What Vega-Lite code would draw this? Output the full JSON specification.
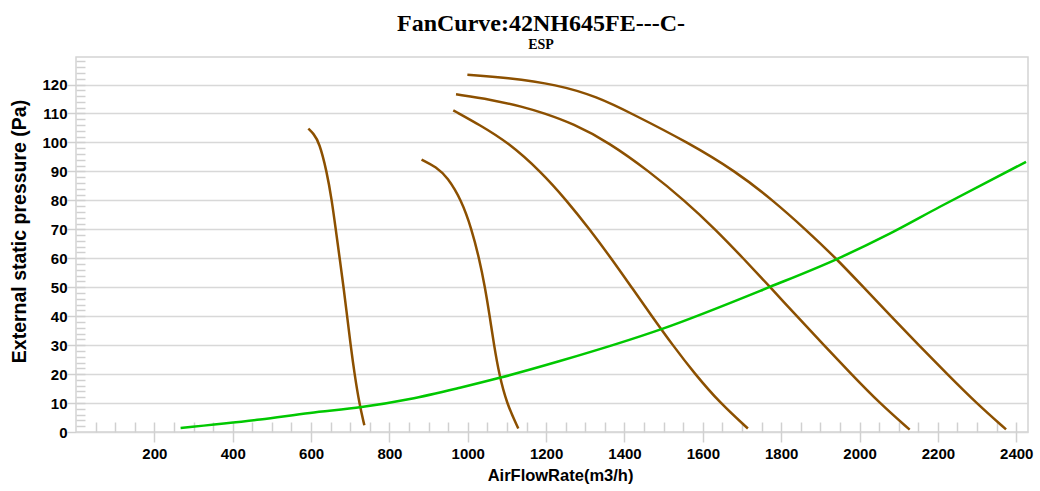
{
  "$schema": "https://vega.github.io/schema/vega-lite/v6.json",
  "width": 952,
  "height": 375,
  "autosize": "none",
  "padding": {"left": 76, "top": 57, "right": 12, "bottom": 59},
  "background": "white",
  "title": {
    "text": "FanCurve:42NH645FE---C-",
    "subtitle": "ESP",
    "font": "Liberation Serif",
    "fontSize": 24,
    "fontWeight": "bold",
    "color": "black",
    "subtitleFont": "Liberation Serif",
    "subtitleFontSize": 14,
    "subtitleFontWeight": "bold",
    "subtitleColor": "black",
    "subtitlePadding": 2,
    "anchor": "middle",
    "offset": 5,
    "dx": -11
  },
  "config": {
    "view": {"stroke": "#d4d4d4", "strokeWidth": 1.5},
    "axis": {
      "labelFont": "Liberation Sans",
      "labelFontSize": 15,
      "labelFontWeight": "bold",
      "labelColor": "black",
      "labelFlush": false,
      "format": "d",
      "titleFont": "Liberation Sans",
      "titleFontWeight": "bold",
      "titleColor": "black",
      "tickColor": "#d0d0d0",
      "tickWidth": 1.5,
      "domain": false
    }
  },
  "data": {
    "values": [
      {"curve": "F1", "q": 593, "p": 104.8},
      {"curve": "F1", "q": 606, "p": 103.1},
      {"curve": "F1", "q": 621, "p": 100},
      {"curve": "F1", "q": 640, "p": 90},
      {"curve": "F1", "q": 653, "p": 80},
      {"curve": "F1", "q": 663, "p": 70},
      {"curve": "F1", "q": 673, "p": 60},
      {"curve": "F1", "q": 683, "p": 50},
      {"curve": "F1", "q": 692, "p": 40},
      {"curve": "F1", "q": 701, "p": 30},
      {"curve": "F1", "q": 711, "p": 20},
      {"curve": "F1", "q": 723, "p": 10},
      {"curve": "F1", "q": 736, "p": 2.3},

      {"curve": "F2", "q": 882, "p": 94.1},
      {"curve": "F2", "q": 920, "p": 91.5},
      {"curve": "F2", "q": 948, "p": 88},
      {"curve": "F2", "q": 984, "p": 80},
      {"curve": "F2", "q": 1010, "p": 70},
      {"curve": "F2", "q": 1029, "p": 60},
      {"curve": "F2", "q": 1044, "p": 50},
      {"curve": "F2", "q": 1056, "p": 40},
      {"curve": "F2", "q": 1067, "p": 30},
      {"curve": "F2", "q": 1080, "p": 20},
      {"curve": "F2", "q": 1099, "p": 10},
      {"curve": "F2", "q": 1129, "p": 1.2},

      {"curve": "F3", "q": 963, "p": 111.1},
      {"curve": "F3", "q": 1031, "p": 106},
      {"curve": "F3", "q": 1103, "p": 100},
      {"curve": "F3", "q": 1186, "p": 90},
      {"curve": "F3", "q": 1252, "p": 80},
      {"curve": "F3", "q": 1311, "p": 70},
      {"curve": "F3", "q": 1366, "p": 60},
      {"curve": "F3", "q": 1418, "p": 50},
      {"curve": "F3", "q": 1470, "p": 40},
      {"curve": "F3", "q": 1523, "p": 30},
      {"curve": "F3", "q": 1580, "p": 20},
      {"curve": "F3", "q": 1644, "p": 10},
      {"curve": "F3", "q": 1715, "p": 1.2},

      {"curve": "F4", "q": 970, "p": 116.6},
      {"curve": "F4", "q": 1060, "p": 114.8},
      {"curve": "F4", "q": 1141, "p": 112.3},
      {"curve": "F4", "q": 1192, "p": 110.2},
      {"curve": "F4", "q": 1269, "p": 106.5},
      {"curve": "F4", "q": 1360, "p": 100},
      {"curve": "F4", "q": 1463, "p": 90},
      {"curve": "F4", "q": 1553, "p": 80},
      {"curve": "F4", "q": 1632, "p": 70},
      {"curve": "F4", "q": 1703, "p": 60},
      {"curve": "F4", "q": 1772, "p": 50},
      {"curve": "F4", "q": 1840, "p": 40},
      {"curve": "F4", "q": 1909, "p": 30},
      {"curve": "F4", "q": 1979, "p": 20},
      {"curve": "F4", "q": 2051, "p": 10},
      {"curve": "F4", "q": 2128, "p": 0.8},

      {"curve": "F5", "q": 999, "p": 123.4},
      {"curve": "F5", "q": 1099, "p": 122.4},
      {"curve": "F5", "q": 1227, "p": 120},
      {"curve": "F5", "q": 1330, "p": 115.8},
      {"curve": "F5", "q": 1418, "p": 110},
      {"curve": "F5", "q": 1562, "p": 100},
      {"curve": "F5", "q": 1684, "p": 90},
      {"curve": "F5", "q": 1779, "p": 80},
      {"curve": "F5", "q": 1862, "p": 70},
      {"curve": "F5", "q": 1940, "p": 60},
      {"curve": "F5", "q": 2010, "p": 50},
      {"curve": "F5", "q": 2080, "p": 40},
      {"curve": "F5", "q": 2151, "p": 30},
      {"curve": "F5", "q": 2224, "p": 20},
      {"curve": "F5", "q": 2298, "p": 10},
      {"curve": "F5", "q": 2374, "p": 0.9},

      {"curve": "ESP", "q": 267, "p": 1.4},
      {"curve": "ESP", "q": 470, "p": 4.3},
      {"curve": "ESP", "q": 597, "p": 6.6},
      {"curve": "ESP", "q": 729, "p": 8.6},
      {"curve": "ESP", "q": 852, "p": 11.4},
      {"curve": "ESP", "q": 980, "p": 15.3},
      {"curve": "ESP", "q": 1084, "p": 18.8},
      {"curve": "ESP", "q": 1235, "p": 24.5},
      {"curve": "ESP", "q": 1498, "p": 35.7},
      {"curve": "ESP", "q": 1771, "p": 50.1},
      {"curve": "ESP", "q": 1945, "p": 59.9},
      {"curve": "ESP", "q": 2077, "p": 68.5},
      {"curve": "ESP", "q": 2204, "p": 77.7},
      {"curve": "ESP", "q": 2425, "p": 93.3}
    ]
  },
  "layer": [
    {
      "transform": [{"filter": "datum.curve != 'ESP'"}],
      "mark": {"type": "line", "color": "#8c5000", "strokeWidth": 2.5, "interpolate": "basis"},
      "encoding": {
        "x": {
          "field": "q",
          "type": "quantitative",
          "scale": {"domain": [0, 2430], "nice": false, "zero": false},
          "axis": {
            "orient": "bottom",
            "values": [200, 400, 600, 800, 1000, 1200, 1400, 1600, 1800, 2000, 2200, 2400],
            "tickSize": 10,
            "labelPadding": 4,
            "grid": false,
            "title": "AirFlowRate(m3/h)",
            "titleFontSize": 16.5,
            "titleX": 484,
            "titleY": 43,
            "titleBaseline": "middle"
          }
        },
        "y": {
          "field": "p",
          "type": "quantitative",
          "scale": {"domain": [0, 129.5], "nice": false, "zero": false},
          "axis": {
            "orient": "left",
            "values": [0, 10, 20, 30, 40, 50, 60, 70, 80, 90, 100, 110, 120],
            "tickSize": 9,
            "labelPadding": 0,
            "grid": true,
            "gridColor": "#d8d8d8",
            "gridWidth": 1.5,
            "title": "External static pressure (Pa)",
            "titleFontSize": 19.5,
            "titleX": -57,
            "titleY": 174,
            "titleBaseline": "middle"
          }
        },
        "detail": {"field": "curve"}
      }
    },
    {
      "transform": [{"filter": "datum.curve == 'ESP'"}],
      "mark": {"type": "line", "color": "#00c800", "strokeWidth": 2.5, "interpolate": "monotone"},
      "encoding": {
        "x": {
          "field": "q",
          "type": "quantitative",
          "axis": {
            "orient": "bottom",
            "values": [50, 100, 150, 200, 250, 300, 350, 400, 450, 500, 550, 600, 650, 700, 750, 800, 850, 900, 950, 1000, 1050, 1100, 1150, 1200, 1250, 1300, 1350, 1400, 1450, 1500, 1550, 1600, 1650, 1700, 1750, 1800, 1850, 1900, 1950, 2000, 2050, 2100, 2150, 2200, 2250, 2300, 2350, 2400],
            "tickSize": -10,
            "labels": false,
            "grid": false,
            "title": null
          }
        },
        "y": {
          "field": "p",
          "type": "quantitative",
          "axis": {
            "orient": "left",
            "values": [2, 4, 6, 8, 10, 12, 14, 16, 18, 20, 22, 24, 26, 28, 30, 32, 34, 36, 38, 40, 42, 44, 46, 48, 50, 52, 54, 56, 58, 60, 62, 64, 66, 68, 70, 72, 74, 76, 78, 80, 82, 84, 86, 88, 90, 92, 94, 96, 98, 100, 102, 104, 106, 108, 110, 112, 114, 116, 118, 120, 122, 124, 126, 128],
            "tickSize": -9,
            "labels": false,
            "grid": false,
            "title": null
          }
        }
      }
    }
  ],
  "resolve": {"axis": {"x": "independent", "y": "independent"}}
}
